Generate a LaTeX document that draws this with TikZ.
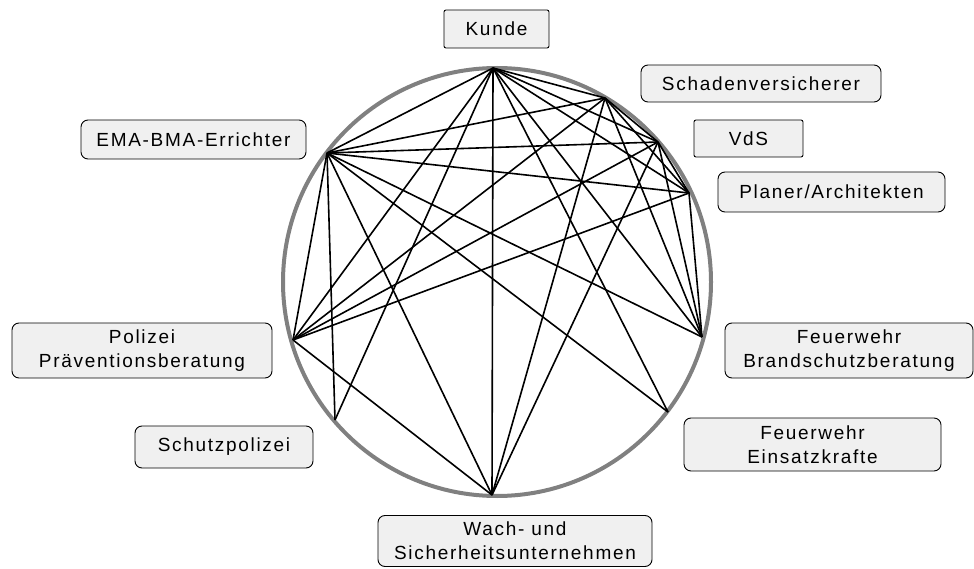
\documentclass[tikz,border=0pt]{standalone}
\usepackage{fontspec}
\setmainfont{Liberation Sans}[LetterSpace=9]
\begin{document}
\begin{tikzpicture}[x=1pt,y=-1pt,
  lbl/.style={draw=black,line width=0.9pt,fill=gray!12,rounded corners=7pt,
    align=center,inner sep=0pt,font=\fontsize{19}{24}\selectfont},
  sqlbl/.style={lbl,rounded corners=2pt},
  edge/.style={line width=1.6pt,black}]
\useasboundingbox (0,0) rectangle (974,569);
% circle
\draw[gray,line width=4pt] (497,282) circle[radius=214];
% vertices on the circle
\coordinate (K) at (493,68);
\coordinate (S) at (605,98);
\coordinate (V) at (658,142);
\coordinate (P) at (689,193);
\coordinate (FB) at (702,337);
\coordinate (FE) at (668,412);
\coordinate (W) at (492,495);
\coordinate (SP) at (335,420);
\coordinate (PP) at (293,340);
\coordinate (E) at (327,153);
% connectors
\foreach \a/\b in {K/E,K/S,K/V,K/P,K/FB,K/FE,K/W,K/SP,K/PP,
  E/S,E/V,E/P,E/FB,E/FE,E/W,E/SP,E/PP,
  PP/S,PP/V,PP/P,PP/W,
  S/W,S/FB,S/V,S/P,
  V/W,V/FB,V/P,
  P/FB}
  \draw[edge] (\a) -- (\b);
% labels
\node[sqlbl,minimum width=105pt,minimum height=38pt] (lK) at (496.5,29) {Kunde};
\node[lbl,minimum width=240pt,minimum height=37pt] (lS) at (761,83.5) {Schadenversicherer};
\node[sqlbl,minimum width=109pt,minimum height=37pt] (lV) at (748.5,138.5) {VdS};
\node[lbl,minimum width=227pt,minimum height=40pt] (lP) at (831.5,192) {Planer/Architekten};
\node[lbl,minimum width=225pt,minimum height=39pt] (lE) at (193.5,139.5) {EMA-BMA-Errichter};
\node[lbl,minimum width=260pt,minimum height=55pt] (lPP) at (142,350.5) {Polizei\\Präventionsberatung};
\node[lbl,minimum width=178pt,minimum height=42pt] (lSP) at (224,447) {Schutzpolizei};
\node[lbl,minimum width=248pt,minimum height=55pt] (lFB) at (849,350.5) {Feuerwehr\\Brandschutzberatung};
\node[lbl,minimum width=257pt,minimum height=53pt] (lFE) at (812.5,444.5) {Feuerwehr\\Einsatzkrafte};
\node[lbl,minimum width=274pt,minimum height=51pt] (lW) at (515,541) {Wach- und\\Sicherheitsunternehmen};
\end{tikzpicture}
\end{document}
